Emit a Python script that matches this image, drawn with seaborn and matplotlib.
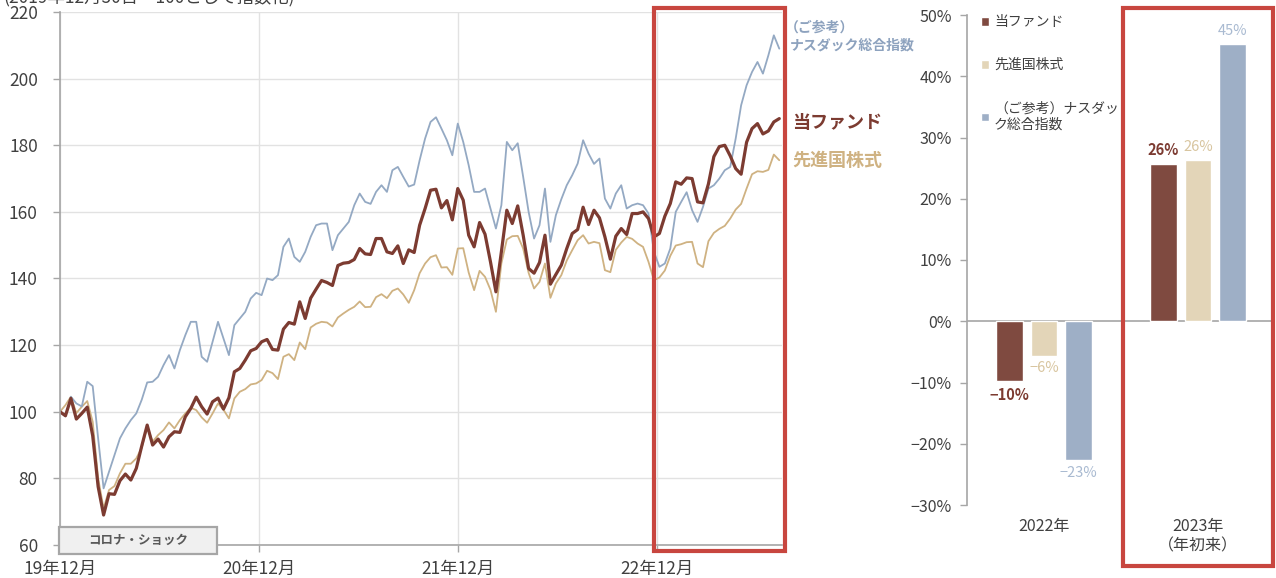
import numpy as np
import pandas as pd
import matplotlib
matplotlib.use("Agg")
import matplotlib.pyplot as plt
from matplotlib.patches import Rectangle
import seaborn as sns

# ---------------- data ----------------
start_date = "2019-12-30"
step_days = 10

fund = [
    100, 98.8, 104, 97.8, 99.5, 101.4, 92.8, 77.5, 69, 75.4,
    75.2, 79.3, 81.3, 79.5, 83, 89.7, 96, 90, 91.8, 89.4,
    92.5, 94, 93.8, 98.5, 101, 104.4, 101.5, 99.3, 103, 104.1,
    100.8, 104.2, 112, 113, 115.5, 118.3, 119, 121, 121.7, 118.7,
    118.5, 124.8, 126.8, 126.3, 133, 128, 134.1, 136.8, 139.4, 138.8,
    137.9, 143.9, 144.6, 144.8, 145.7, 149, 147.4, 147.2, 152, 152,
    148, 147.5, 149.8, 144.5, 148.6, 147.8, 156, 161, 166.5, 166.8,
    161.2, 163.4, 157.6, 167, 163.5, 153, 149.5, 156.8, 153.3, 145,
    136, 148, 160.5, 156.5, 161.8, 153, 143, 141.6, 144.8, 153,
    138.3, 141.2, 144, 149, 153.5, 154.7, 161.4, 156.2, 160.5, 158.2,
    152.5, 145.8, 152.7, 155, 153.2, 159.5, 159.5, 160, 158, 152.5,
    153.5, 158.7, 162.5, 169, 168.3, 170.2, 170, 163, 162.7, 168.4,
    176.6, 179.6, 180, 176.8, 173, 171.3, 180.9, 185, 186.5, 183.4,
    184.3, 187, 188,
]

developed = [
    100, 102, 104.5, 99.6, 101.5, 103.2, 97, 80, 71, 76.5,
    77.7, 81.5, 84.4, 84.4, 86, 89.2, 95.5, 91, 93, 94.5,
    96.8, 95, 97.5, 99.5, 101.2, 100.5, 98.3, 96.7, 99.5, 102.5,
    100.6, 98, 104, 106, 106.8, 108.2, 108.5, 109.5, 112.3, 111.6,
    109.8, 116.5, 117.3, 115.5, 120.8, 118.8, 125.3, 126.4, 127, 126.8,
    125.6, 128.3, 129.5, 130.6, 131.5, 133.1, 131.4, 131.5, 134.4, 135.3,
    134.1, 136.3, 137, 135.2, 132.7, 136.5, 141.6, 144.5, 146.4, 147,
    143.3, 143.4, 141.1, 149, 149.1, 141.8, 136.5, 142.3, 140.5, 136.6,
    130, 144.5, 151.7, 152.7, 152.8, 149, 141.7, 137, 139, 144.5,
    134.2, 138.5, 141, 145.4, 148.5, 151.5, 153, 150.5, 151, 150.6,
    142.5, 141.9, 148.6, 150.8, 152.5, 151.9, 150.5, 149.5, 145, 139.5,
    140.3, 142.4, 146.8, 149.9, 150.3, 150.9, 151, 144.5, 143.4, 151.2,
    153.7, 154.9, 155.8, 158, 160.7, 162.4, 167, 171.3, 172.2, 172,
    172.6, 177.2, 175.5,
]

nasdaq = [
    100, 98.6, 104.5, 102.5, 101.6, 109, 107.7, 92, 77, 82,
    87, 92, 95, 97.5, 99.5, 103.6, 108.8, 109, 110.5, 114,
    117, 113, 118.5, 123, 127, 127, 116.5, 115, 121, 127,
    122, 117, 126, 128, 130, 134, 135.7, 135, 140, 139.5,
    141, 149.5, 152, 146.5, 145, 148, 152.5, 156, 156.5, 156.5,
    148.5, 153, 155, 157, 162, 165.5, 163, 162.4, 166, 168,
    166, 172.5, 173.5, 170.5, 167.6, 168.2, 175.5, 182, 187, 188.4,
    185, 181.5, 177, 186.5, 181, 174, 166, 166, 167, 161,
    155, 162, 181, 178.5, 180.6, 170.5, 160, 152, 156, 167,
    151, 159, 163.8, 168, 171, 174.5, 181.5, 177.5, 174.4, 176,
    164, 161, 165.5, 168, 161, 162, 162.5, 162, 159.5, 148,
    143.5, 144.5, 149, 160, 163, 165.9, 160.5, 157, 161.5, 167,
    168, 170, 172.5, 173.5, 182, 192, 198, 202, 205, 201.5,
    207, 213, 209,
]

tick_dates = ["2019-12-30", "2020-12-30", "2021-12-30", "2022-12-30"]
tick_labels = ["19年12月", "20年12月", "21年12月", "22年12月"]
x_end = "2023-08-16"
y_ticks = [60, 80, 100, 120, 140, 160, 180, 200, 220]

bar_years = ["2022年", "2023年\n（年初来）"]
bar_fund = [-9.8, 25.7]
bar_developed = [-5.6, 26.4]
bar_nasdaq = [-22.7, 45.3]
series_names = ["当ファンド", "先進国株式", "（ご参考）ナスダック総合指数"]
legend_labels = ["当ファンド", "先進国株式", "（ご参考）ナスダッ\nク総合指数"]
bar_ticks = [-30, -20, -10, 0, 10, 20, 30, 40, 50]

# ---------------- style ----------------
sns.set_style("white")
plt.rcParams["font.family"] = ["Noto Sans CJK JP", "DejaVu Sans"]
plt.rcParams["axes.unicode_minus"] = True

brown_line = "#7c3b31"
tan_line = "#cfb282"
blue_line = "#94a9c3"
brown_bar = "#7f4a40"
tan_bar = "#e3d5b8"
blue_bar = "#9eafc6"
txt = "#404040"
spine_c = "#a6a6a6"
grid_c = "#e2e2e2"
red_c = "#c8463f"

W, H = 1276, 578
fig = plt.figure(figsize=(W / 100, H / 100), dpi=100)

# ---------------- left: line chart ----------------
ax = fig.add_axes([60 / W, 1 - 545 / H, 722 / W, 533 / H])
dates = pd.date_range(start_date, periods=len(fund), freq=f"{step_days}D")
df = pd.DataFrame({"date": dates, "fund": fund, "developed": developed, "nasdaq": nasdaq})

sns.lineplot(data=df, x="date", y="developed", color=tan_line, linewidth=1.3, ax=ax)
sns.lineplot(data=df, x="date", y="nasdaq", color=blue_line, linewidth=1.3, ax=ax)
sns.lineplot(data=df, x="date", y="fund", color=brown_line, linewidth=2.3, ax=ax)

ax.set_xlim(pd.Timestamp(start_date), pd.Timestamp(x_end))
ax.set_ylim(y_ticks[0], y_ticks[-1])
ax.set_yticks(y_ticks)
ax.set_xticks(pd.to_datetime(tick_dates))
ax.set_xticklabels(tick_labels)
ax.set_xlabel("")
ax.set_ylabel("")
ax.set_axisbelow(True)
ax.grid(True, color=grid_c, linewidth=1.0)
for s in ["top", "right"]:
    ax.spines[s].set_visible(False)
for s in ["left", "bottom"]:
    ax.spines[s].set_color(spine_c)
    ax.spines[s].set_linewidth(1.2)
ax.tick_params(axis="y", length=5, width=1, color=spine_c, pad=11, labelsize=12.5, labelcolor=txt, left=True)
ax.tick_params(axis="x", length=5, width=1, color=spine_c, pad=6, labelsize=12.5, labelcolor=txt, bottom=True)

# end labels
yx = ax.get_yaxis_transform()
ax.text(1.004, 215.2, "（ご参考）", transform=yx, color="#8da2be", fontsize=10, fontweight="bold",
        va="center", ha="left", clip_on=False)
ax.text(1.011, 209.8, "ナスダック総合指数", transform=yx, color="#8da2be", fontsize=10,
        fontweight="bold", va="center", ha="left", clip_on=False)
ax.text(1.014, 186.7, "当ファンド", transform=yx, color=brown_line, fontsize=13, fontweight="bold",
        va="center", ha="left", clip_on=False)
ax.text(1.014, 175.3, "先進国株式", transform=yx, color=tan_line, fontsize=13, fontweight="bold",
        va="center", ha="left", clip_on=False)

# コロナ・ショック box
ax.add_patch(Rectangle((-0.001, -0.017), 0.219, 0.051, transform=ax.transAxes, facecolor="#f0f0f0",
                       edgecolor="#a6a6a6", linewidth=1.6, clip_on=False, zorder=5))
ax.text(0.109, 0.0085, "コロナ・ショック", transform=ax.transAxes, ha="center", va="center",
        fontsize=9, fontweight="bold", color="#595959", zorder=6, clip_on=False)

# header (cut off at top, as in the reference)
fig.text(3 / W, 1 - 2 / H, "(2019年12月30日＝100として指数化)", fontsize=12.5, color=txt,
         ha="left", va="baseline")

# ---------------- right: bar chart ----------------
ax2 = fig.add_axes([967 / W, 1 - 505 / H, 308 / W, 490 / H])
dfb = pd.DataFrame({
    "year": bar_years * 3,
    "series": [series_names[0]] * 2 + [series_names[1]] * 2 + [series_names[2]] * 2,
    "value": bar_fund + bar_developed + bar_nasdaq,
})
sns.barplot(data=dfb, x="year", y="value", hue="series", hue_order=series_names,
            palette=[brown_bar, tan_bar, blue_bar], saturation=1, width=0.672, gap=0.22,
            ax=ax2, legend=True)
ax2.set_xlim(-0.5, 1.5)
ax2.set_ylim(bar_ticks[0], bar_ticks[-1])
ax2.set_yticks(bar_ticks)
ax2.set_yticklabels([f"{t}%".replace("-", "\u2212") for t in bar_ticks])
ax2.set_xlabel("")
ax2.set_ylabel("")
ax2.axhline(0, color=spine_c, linewidth=1.2, zorder=0.5)
for s in ["top", "right", "bottom"]:
    ax2.spines[s].set_visible(False)
ax2.spines["left"].set_color(spine_c)
ax2.spines["left"].set_linewidth(1.2)
ax2.tick_params(axis="y", length=5, width=1, color=spine_c, pad=6, labelsize=11.5, labelcolor=txt, left=True)
ax2.tick_params(axis="x", length=0, pad=9, labelsize=11.5, labelcolor=txt)
for lab in ax2.get_xticklabels():
    lab.set_linespacing(1.25)

label_colors = [brown_line, "#d8c59f", "#a9bad1"]
label_weights = ["bold", "normal", "normal"]
for cont, vals, col, wt in zip(ax2.containers, [bar_fund, bar_developed, bar_nasdaq], label_colors, label_weights):
    labs = [f"{int(round(v))}%".replace("-", "\u2212") for v in vals]
    ax2.bar_label(cont, labels=labs, padding=4, color=col, fontweight=wt, fontsize=10.5)

handles, _ = ax2.get_legend_handles_labels()
ax2.legend(handles, legend_labels, loc="upper left", bbox_to_anchor=(0.045, 1.0), frameon=False,
           fontsize=10, labelcolor=txt, handlelength=0.6, handleheight=0.6, handletextpad=0.35,
           labelspacing=2.1, borderpad=0, borderaxespad=0)

# ---------------- red highlight boxes ----------------
def fig_rect(x0, y0, x1, y1):
    return Rectangle((x0 / W, 1 - y1 / H), (x1 - x0) / W, (y1 - y0) / H, transform=fig.transFigure,
                     fill=False, edgecolor=red_c, linewidth=3, zorder=10)

fig.add_artist(fig_rect(654, 8, 785, 551))
fig.add_artist(fig_rect(1123, 8, 1273, 566))

fig.savefig("out.png", dpi=100)
